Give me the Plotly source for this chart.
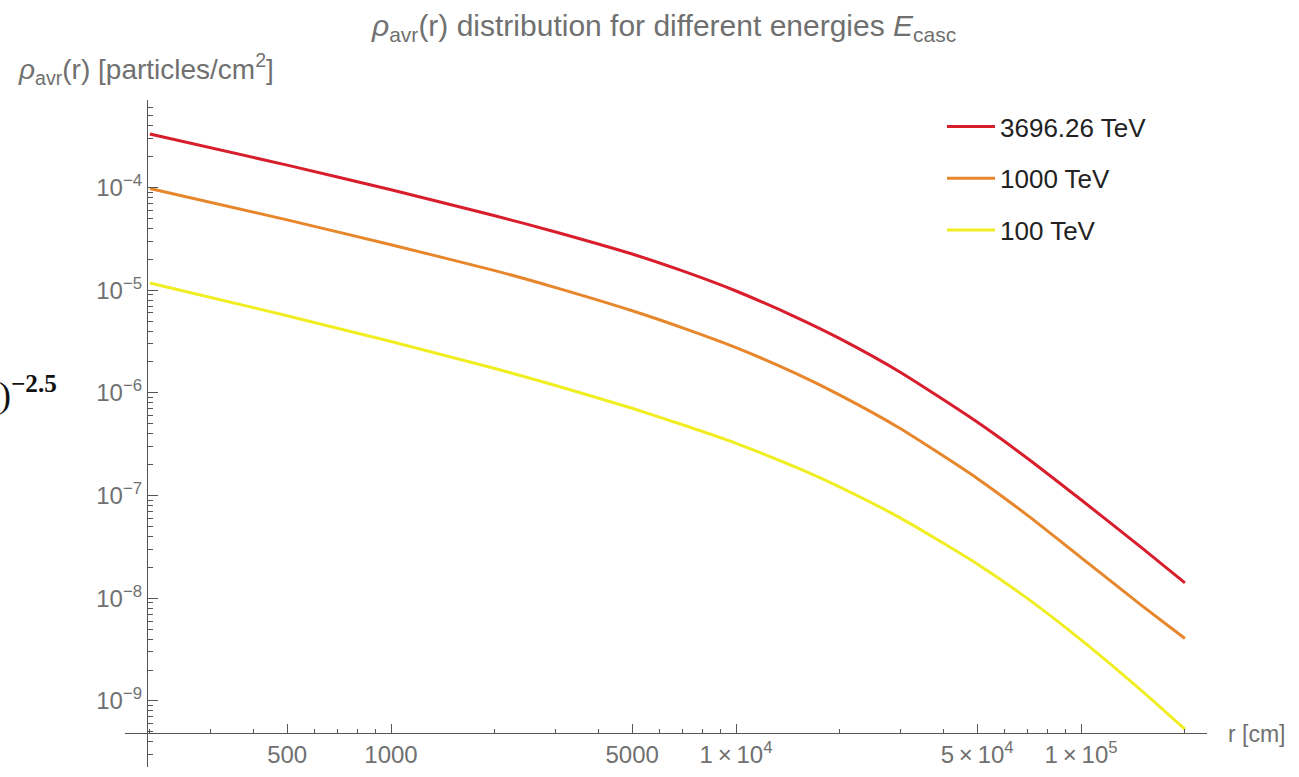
import plotly.graph_objects as go

# ---- data ----
r_cm = [200, 500, 1000, 2000, 3000, 5000, 7000, 1e4, 1.5e4, 2e4, 3e4, 5e4, 7e4, 1e5, 1.5e5, 2e5]
rho_3696 = [3.32e-4, 1.65e-4, 9.5e-5, 5.31e-5, 3.69e-5, 2.25e-5, 1.54e-5, 9.82e-6, 5.41e-6,
            3.37e-6, 1.58e-6, 5.2e-7, 2.30e-7, 9.1e-8, 3.10e-8, 1.41e-8]
rho_1000 = [9.78e-5, 4.84e-5, 2.77e-5, 1.55e-5, 1.06e-5, 6.31e-6, 4.3e-6, 2.76e-6, 1.53e-6,
            9.5e-7, 4.47e-7, 1.47e-7, 6.41e-8, 2.49e-8, 8.49e-9, 4.06e-9]
rho_100 = [1.175e-5, 5.64e-6, 3.16e-6, 1.73e-6, 1.18e-6, 7.08e-7, 4.89e-7, 3.23e-7, 1.87e-7,
           1.21e-7, 6.03e-8, 2.16e-8, 9.93e-9, 3.94e-9, 1.256e-9, 5.31e-10]
series_names = ["3696.26 TeV", "1000 TeV", "100 TeV"]
series_colors = ["#D81E2C", "#E8862C", "#F0EE22"]

x_major = [500, 1000, 5000, 1e4, 5e4, 1e5]
x_major_text = ["500", "1000", "5000", "1\u2009×\u200910<sup>4</sup>",
                "5\u2009×\u200910<sup>4</sup>", "1\u2009×\u200910<sup>5</sup>"]
y_major = [1e-4, 1e-5, 1e-6, 1e-7, 1e-8, 1e-9]
y_major_text = ["10<sup>−4</sup>", "10<sup>−5</sup>", "10<sup>−6</sup>",
                "10<sup>−7</sup>", "10<sup>−8</sup>", "10<sup>−9</sup>"]

x_minor = [m * 10 ** k for k in range(2, 6) for m in range(2, 10)
           if 180 <= m * 10 ** k <= 2.2e5 and m * 10 ** k not in x_major]
y_minor = [m * 10.0 ** k for k in range(-10, -3) for m in range(2, 10)
           if 2.2e-10 <= m * 10.0 ** k <= 7.2e-4]

FONT = "Liberation Sans, Arial, sans-serif"
GRAY = "#707070"
AXIS = "#555555"

fig = go.Figure()
for name, ys, col in zip(series_names, [rho_3696, rho_1000, rho_100], series_colors):
    fig.add_trace(go.Scatter(x=r_cm, y=ys, mode="lines", name=name, legendgroup=name,
                             line=dict(color=col, width=3, shape="spline", smoothing=0.6)))

# plot area: x 125..1207, y 100..767 (pixels)
W, H = 1299, 777
L, R, T, B = 125, 1299 - 1207, 100, 777 - 767
pw, ph = W - L - R, H - T - B

def px(xp):
    return (xp - L) / pw

def py(yp):
    return (H - B - yp) / ph

fig.update_layout(
    width=W, height=H,
    margin=dict(l=L, r=R, t=T, b=B, autoexpand=False),
    paper_bgcolor="white", plot_bgcolor="white",
    font=dict(family=FONT, color=GRAY, size=22),
    showlegend=True,
    legend=dict(x=px(942), y=py(103), xanchor="left", yanchor="top",
                font=dict(size=26, color="#222222"), tracegroupgap=15, itemwidth=48,
                bgcolor="rgba(0,0,0,0)"),
    xaxis=dict(type="log", range=[2.229, 5.365], anchor="free", position=py(733),
               showline=True, linecolor=AXIS, linewidth=1.2, showgrid=False, zeroline=False,
               tickmode="array", tickvals=x_major, ticktext=x_major_text,
               ticks="inside", ticklen=9, tickcolor=AXIS, tickwidth=1.2,
               tickfont=dict(size=24, color=GRAY),
               minor=dict(tickmode="array", tickvals=x_minor, ticks="inside",
                          ticklen=4, tickcolor=AXIS, tickwidth=1, showgrid=False)),
    yaxis=dict(type="log", range=[-9.643, -3.148], anchor="free", position=px(147),
               showline=True, linecolor=AXIS, linewidth=1.2, showgrid=False, zeroline=False,
               tickmode="array", tickvals=y_major, ticktext=y_major_text,
               ticks="inside", ticklen=10, tickcolor=AXIS, tickwidth=1.2,
               tickfont=dict(size=24, color=GRAY),
               minor=dict(tickmode="array", tickvals=y_minor, ticks="inside",
                          ticklen=5, tickcolor=AXIS, tickwidth=1, showgrid=False)),
)

fig.add_annotation(text="<i>ρ</i><sub>avr</sub>(r) distribution for different energies <i>E</i><sub>casc</sub>",
                   xref="paper", yref="paper", x=px(663), y=py(27), showarrow=False,
                   xanchor="center", yanchor="middle", font=dict(size=30, color=GRAY))
fig.add_annotation(text="<i>ρ</i><sub>avr</sub>(r) [particles/cm<sup>2</sup>]",
                   xref="paper", yref="paper", x=px(16), y=py(69), showarrow=False,
                   xanchor="left", yanchor="middle", font=dict(size=28, color=GRAY))
fig.add_annotation(text="r [cm]", xref="paper", yref="paper", x=px(1226), y=py(734),
                   showarrow=False, xanchor="left", yanchor="middle",
                   font=dict(size=23, color=GRAY))
fig.add_annotation(text=")<sup><b>−2.5</b></sup>", xref="paper", yref="paper", x=px(-3), y=py(392),
                   showarrow=False, xanchor="left", yanchor="middle",
                   font=dict(size=36, color="#111111", family="Liberation Serif, serif"))

fig.write_html("out.html")
